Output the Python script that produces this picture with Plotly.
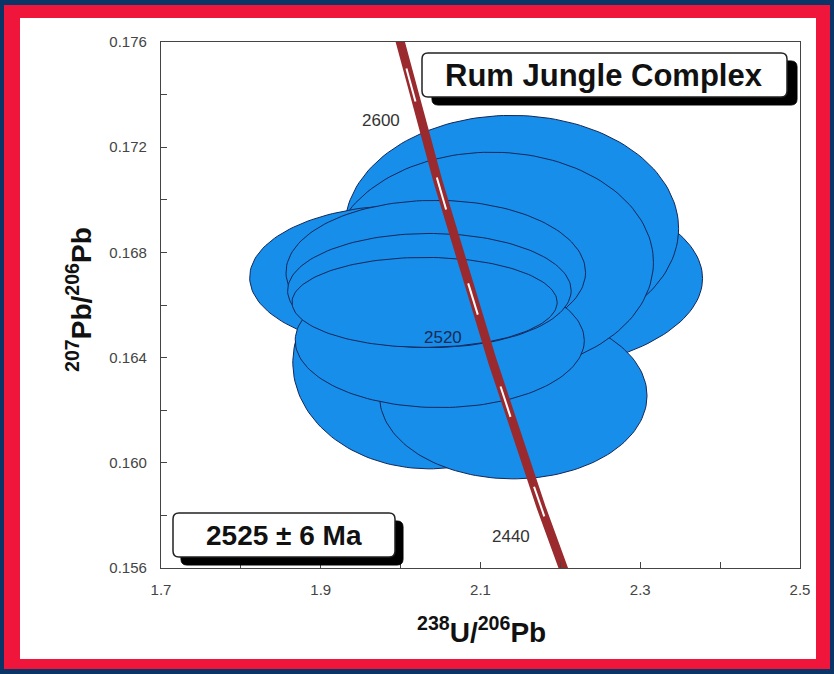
import numpy as np
import plotly.graph_objects as go

# ---------------- data ----------------
# error ellipses (238U/206Pb centre, 207Pb/206Pb centre, x half-width, y half-height, rho)
ell_x = [2.124, 2.139, 2.036, 2.141, 2.114, 2.005, 2.044, 2.049, 2.036, 2.030]
ell_y = [0.16701, 0.16891, 0.16381, 0.16255, 0.16762, 0.16705, 0.16724, 0.16465, 0.16655, 0.16610]
ell_rx = [0.254, 0.209, 0.171, 0.1675, 0.2025, 0.194, 0.1875, 0.181, 0.1775, 0.166]
ell_ry = [0.00362, 0.00430, 0.00404, 0.00316, 0.00419, 0.00274, 0.00274, 0.00255, 0.00217, 0.00171]
ell_rho = [0.0, 0.0, 0.0, 0.0, 0.0, 0.0, 0.0, 0.0, 0.0, 0.0]

age_marks = [2440, 2480, 2520, 2560, 2600]      # Ma, white ticks on concordia
age_labels = [2440, 2520, 2600]                 # Ma, labelled ticks
label_shift = [(-28, -35), (-30, -38), (-30, -36)]

x_ticks = [1.7, 1.9, 2.1, 2.3, 2.5]
y_ticks = [0.156, 0.160, 0.164, 0.168, 0.172, 0.176]

title_text = "Rum Jungle Complex"
age_text = "2525 ± 6 Ma"

# ---------------- concordia ----------------
L238 = 1.55125e-4   # per Ma
L235 = 9.8485e-4
U_RATIO = 137.88


def concordia(t):
    t = np.asarray(t, dtype=float)
    e8 = np.exp(L238 * t) - 1.0
    e5 = np.exp(L235 * t) - 1.0
    return 1.0 / e8, e5 / e8 / U_RATIO


fig = go.Figure()

# ellipses
th = np.linspace(0, 2 * np.pi, 160)
for cx, cy, rx, ry, rho in zip(ell_x, ell_y, ell_rx, ell_ry, ell_rho):
    xs = cx + rx * np.cos(th)
    ys = cy + ry * (rho * np.cos(th) + np.sqrt(1 - rho ** 2) * np.sin(th))
    fig.add_trace(go.Scatter(x=xs, y=ys, mode="lines", fill="toself",
                             fillcolor="#168EEA",
                             line=dict(color="#14285a", width=1),
                             hoverinfo="skip", showlegend=False))

# concordia curve
ta = np.linspace(2380, 2650, 400)
cx_, cy_ = concordia(ta)
fig.add_trace(go.Scatter(x=cx_, y=cy_, mode="lines",
                         line=dict(color="#9a2a2e", width=9),
                         hoverinfo="skip", showlegend=False))

# white age marks
for a in age_marks:
    tt = np.linspace(a - 6, a + 6, 10)
    mx, my = concordia(tt)
    fig.add_trace(go.Scatter(x=mx, y=my, mode="lines",
                             line=dict(color="white", width=2),
                             hoverinfo="skip", showlegend=False))

annotations = []
for a, (dx, dy) in zip(age_labels, label_shift):
    px, py = concordia(a)
    annotations.append(dict(x=float(px), y=float(py), xref="x", yref="y",
                            text=str(a), showarrow=False, xshift=dx, yshift=dy,
                            xanchor="center", yanchor="middle",
                            font=dict(family="Arial", size=17,
                                      color="#1c2a55" if a == 2520 else "#333333")))

# ---------------- layout geometry (pixels) ----------------
W, H = 834, 674
L, R, T, B = 161, 800, 42, 568


def px2paper_x(p):
    return (p - L) / (R - L)


def px2paper_y(p):
    return (B - p) / (B - T)


def rect(x0, y0, x1, y1, fill, line=None, lw=0, layer="above"):
    return dict(type="rect", xref="paper", yref="paper",
                x0=px2paper_x(x0), x1=px2paper_x(x1),
                y0=px2paper_y(y1), y1=px2paper_y(y0),
                fillcolor=fill, line=dict(color=line or fill, width=lw),
                layer=layer)


def rrect(x0, y0, x1, y1, r, fill, line, lw, layer="above"):
    # rounded rectangle path in paper coords
    def P(x, y):
        return f"{px2paper_x(x):.5f},{px2paper_y(y):.5f}"
    path = (f"M {P(x0 + r, y0)} L {P(x1 - r, y0)} Q {P(x1, y0)} {P(x1, y0 + r)} "
            f"L {P(x1, y1 - r)} Q {P(x1, y1)} {P(x1 - r, y1)} "
            f"L {P(x0 + r, y1)} Q {P(x0, y1)} {P(x0, y1 - r)} "
            f"L {P(x0, y0 + r)} Q {P(x0, y0)} {P(x0 + r, y0)} Z")
    return dict(type="path", xref="paper", yref="paper", path=path,
                fillcolor=fill, line=dict(color=line, width=lw), layer=layer)


shapes = [
    rect(4, 5, 830, 669, "#f0153a", layer="below"),
    rect(20, 18, 816, 659, "#ffffff", layer="below"),
    # title box
    rrect(432, 61, 797, 105, 6, "#000000", "#000000", 1),
    rrect(422, 53, 787, 97, 6, "#ffffff", "#222222", 1.5),
    # age box
    rrect(181, 521, 403, 565, 6, "#000000", "#000000", 1),
    rrect(173, 513, 395, 557, 6, "#ffffff", "#222222", 1.5),
]


def ann(px, py, text, size, angle=0):
    return dict(x=px2paper_x(px), y=px2paper_y(py), xref="paper", yref="paper",
                text=text, showarrow=False, xanchor="center", yanchor="middle",
                textangle=angle,
                font=dict(family="Arial", size=size, color="#111111"))


annotations += [
    ann(604, 75, f"<b>{title_text}</b>", 31),
    ann(284, 535, f"<b>{age_text}</b>", 28),
    ann(481, 630, "<b><sup>238</sup>U/<sup>206</sup>Pb</b>", 28),
    ann(79, 300, "<b><sup>207</sup>Pb/<sup>206</sup>Pb</b>", 28, angle=-90),
]

fig.update_layout(
    width=W, height=H,
    margin=dict(l=L, r=W - R, t=T, b=H - B, autoexpand=False),
    paper_bgcolor="#0b3566",
    plot_bgcolor="rgba(0,0,0,0)",
    shapes=shapes,
    annotations=annotations,
    showlegend=False,
)

axis_common = dict(showgrid=False, zeroline=False, showline=True, mirror=True,
                   linecolor="#444444", linewidth=1.2, ticks="inside", ticklen=6,
                   tickcolor="#444444",
                   tickfont=dict(family="Arial", size=15, color="#444444"))

fig.update_xaxes(range=[1.7, 2.5], tickvals=x_ticks, ticktext=[f"{v:.1f}" for v in x_ticks],
                 minor=dict(dtick=0.1, tick0=1.7, ticks="inside", ticklen=6, tickcolor="#444444"),
                 ticklabelstandoff=8, **axis_common)
fig.update_yaxes(range=[0.156, 0.176], tickvals=y_ticks, ticktext=[f"{v:.3f}" for v in y_ticks],
                 minor=dict(dtick=0.002, tick0=0.156, ticks="inside", ticklen=6, tickcolor="#444444"),
                 ticklabelstandoff=10, **axis_common)

fig.write_html("out.html", config={"displayModeBar": False},
               post_script="document.body.style.margin='0';document.body.style.padding='0';")
